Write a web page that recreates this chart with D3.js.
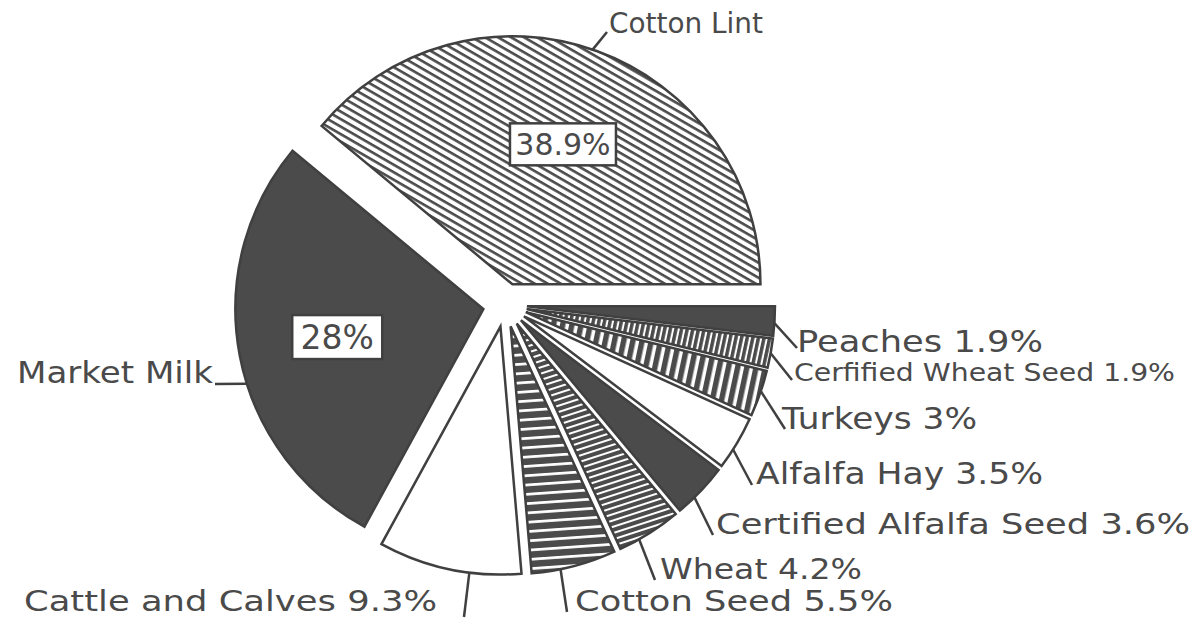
<!DOCTYPE html>
<html>
<head>
<meta charset="utf-8">
<script src="https://cdn.jsdelivr.net/npm/d3@7"></script>
<style>
  body { margin: 0; background: #fff; }
  svg text { font-family: "DejaVu Sans", sans-serif; fill: #4a4a4a; }
</style>
</head>
<body>
<div id="chart"></div>
<script>
// values (percent of total)
const categories = [
  "Cotton Lint", "Market Milk", "Cattle and Calves", "Cotton Seed", "Wheat",
  "Certified Alfalfa Seed", "Alfalfa Hay", "Turkeys", "Cerfified Wheat Seed", "Peaches"
];
const shares = [38.9, 28, 9.3, 5.5, 4.2, 3.6, 3.5, 3, 1.9, 1.9];
// the two big slices carry their share in a box instead of the label
const boxedShare = [true, true, false, false, false, false, false, false, false, false];

const width = 1199;
const height = 619;
const cx = 505, cy = 305, radius = 248, explode = 22;
const dark = "#4b4b4b";

// fills per slice
const fills = ["url(#lint)", dark, "#fff", "url(#cseed)", "url(#wheat)",
  dark, "#fff", "url(#turkey)", "url(#cws)", dark];

// label layout: leader start fraction along the arc, leader end, text start/baseline, width, size
const labelLayout = [
  { f: 0.507, lx: 607, ly: 32, tx: 609, ty: 33, w: 154, size: 28 },
  { f: 0.566, lx: 215, ly: 384, tx: 17, ty: 383, w: 196, size: 30 },
  { f: 0.64, lx: 464, ly: 617, tx: 24, ty: 611, w: 413, size: 29 },
  { f: 0.34, lx: 567, ly: 612, tx: 575, ty: 611, w: 318, size: 29 },
  { f: 0.32, lx: 655, ly: 580, tx: 660, ty: 579, w: 202, size: 29 },
  { f: 0.35, lx: 713, ly: 535, tx: 716, ty: 534, w: 474, size: 29 },
  { f: 0.37, lx: 752, ly: 485, tx: 756, ty: 484, w: 287, size: 30 },
  { f: 0.55, lx: 785, ly: 429, tx: 782, ty: 429, w: 195, size: 30 },
  { f: 0.5, lx: 792, ly: 380, tx: 794, ty: 381, w: 381, size: 25 },
  { f: 0.43, lx: 797, ly: 348, tx: 797, ty: 352, w: 246, size: 31 }
];

const data = categories.map((name, i) => ({ name, value: shares[i], i }));

const svg = d3.select("#chart")
  .append("svg")
  .attr("width", width)
  .attr("height", height);

// hatch patterns
const defs = svg.append("defs");
function stripes(id, period, line, rotate, bg, fg) {
  const p = defs.append("pattern")
    .attr("id", id)
    .attr("patternUnits", "userSpaceOnUse")
    .attr("width", 40)
    .attr("height", period)
    .attr("patternTransform", `rotate(${rotate})`);
  p.append("rect").attr("width", 40).attr("height", period).attr("fill", bg);
  p.append("rect").attr("y", 0).attr("width", 40).attr("height", line).attr("fill", fg);
}
stripes("lint", 6.5, 2.6, 30, "#fff", dark);
stripes("cseed", 9.3, 2.7, -4, dark, "#fff");
stripes("wheat", 6, 2, -18, dark, "#fff");
stripes("turkey", 9, 3.5, 102, dark, "#fff");
stripes("cws", 5.5, 2, 102, dark, "#fff");

const pie = d3.pie()
  .sort(null)
  .value((d) => d.value)
  .startAngle(Math.PI / 2)
  .endAngle(Math.PI / 2 - 2 * Math.PI);

const arcs = pie(data);
const arc = d3.arc().innerRadius(0).outerRadius(radius);

const offset = (d) => {
  const a = (d.startAngle + d.endAngle) / 2;
  return [cx + explode * Math.sin(a), cy - explode * Math.cos(a)];
};

const g = svg.append("g");

g.selectAll("path")
  .data(arcs)
  .enter()
  .append("path")
  .attr("d", arc)
  .attr("transform", (d) => `translate(${offset(d)})`)
  .attr("fill", (d) => fills[d.data.i])
  .attr("stroke", "#404040")
  .attr("stroke-width", 2.5)
  .attr("stroke-linejoin", "miter");

// leader lines
const leaderPoint = (d) => {
  const L = labelLayout[d.data.i];
  const a = d.startAngle + L.f * (d.endAngle - d.startAngle);
  const [ox, oy] = offset(d);
  return [ox + radius * Math.sin(a), oy - radius * Math.cos(a)];
};

g.selectAll("line.leader")
  .data(arcs)
  .enter()
  .append("line")
  .attr("class", "leader")
  .attr("x1", (d) => leaderPoint(d)[0])
  .attr("y1", (d) => leaderPoint(d)[1])
  .attr("x2", (d) => labelLayout[d.data.i].lx)
  .attr("y2", (d) => labelLayout[d.data.i].ly)
  .attr("stroke", "#404040")
  .attr("stroke-width", 2.5);

// outside labels
g.selectAll("text.label")
  .data(arcs)
  .enter()
  .append("text")
  .attr("class", "label")
  .attr("x", (d) => labelLayout[d.data.i].tx)
  .attr("y", (d) => labelLayout[d.data.i].ty)
  .attr("font-size", (d) => labelLayout[d.data.i].size)
  .attr("textLength", (d) => labelLayout[d.data.i].w)
  .attr("lengthAdjust", "spacingAndGlyphs")
  .text((d) => boxedShare[d.data.i] ? d.data.name : `${d.data.name} ${d.data.value}%`);

// boxed percentages inside the two big slices
const boxed = arcs.filter((d) => boxedShare[d.data.i]);
const boxSize = [[106, 42, 30], [90, 44, 33]];
const inner = d3.arc().innerRadius(0).outerRadius(radius * 1.2);

boxed.forEach((d, k) => {
  const [ox, oy] = offset(d);
  const [px, py] = inner.centroid(d);
  const [bw, bh, fs] = boxSize[k];
  const bx = ox + px, by = oy + py;
  g.append("rect")
    .attr("x", bx - bw / 2)
    .attr("y", by - bh / 2)
    .attr("width", bw)
    .attr("height", bh)
    .attr("fill", "#fff")
    .attr("stroke", "#404040")
    .attr("stroke-width", 2.5);
  g.append("text")
    .attr("x", bx)
    .attr("y", by + fs * 0.36)
    .attr("text-anchor", "middle")
    .attr("font-size", fs)
    .text(`${d.data.value}%`);
});
</script>
</body>
</html>
